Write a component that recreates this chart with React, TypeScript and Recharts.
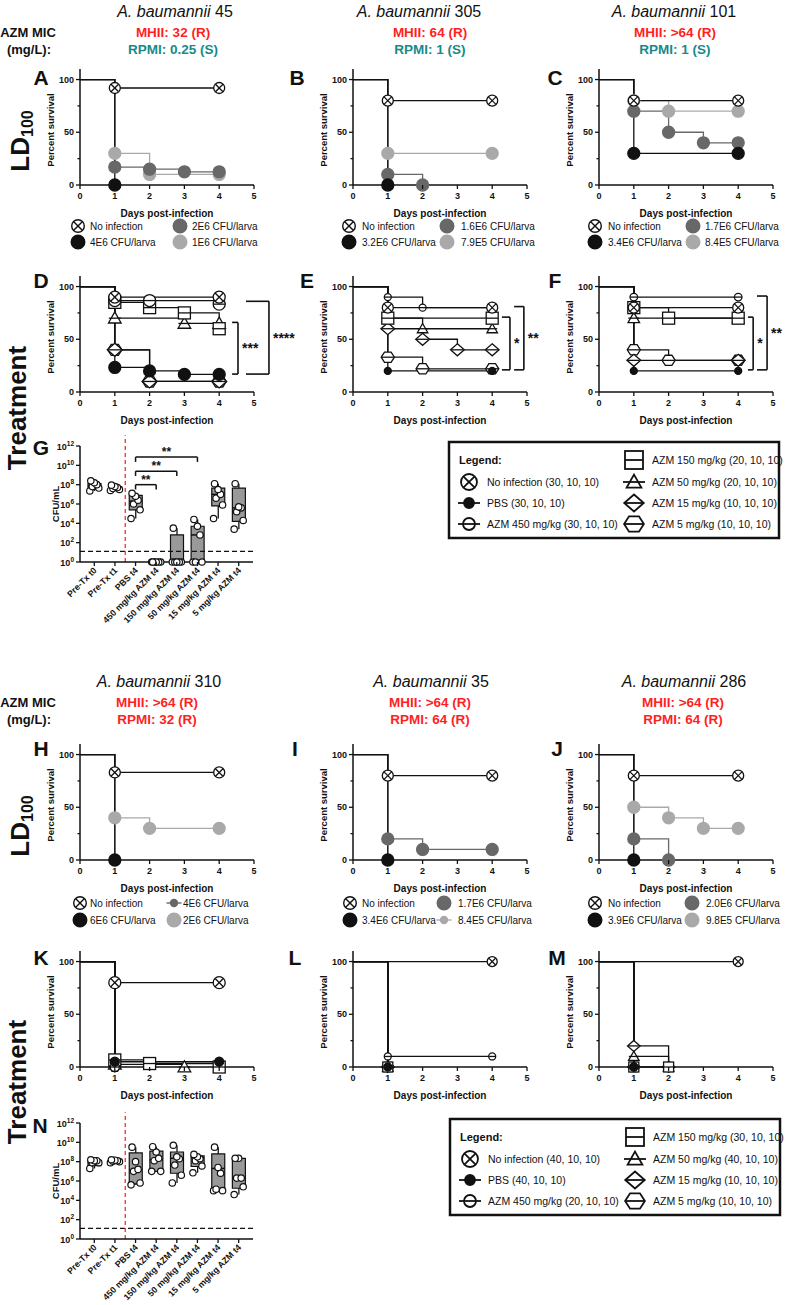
import React from 'react';
import { LineChart, Line, XAxis, YAxis, ReferenceLine, ComposedChart, Bar, Scatter } from 'recharts';

const FONT = "'Liberation Sans', Arial, Helvetica, sans-serif";
const NARROW = "'Liberation Sans Narrow', 'Arial Narrow', 'Liberation Sans', Arial, sans-serif";
const BLACK = '#111111';
const DARK = '#686868';
const LIGHT = '#a9a9a9';
const RED = '#ff1f1f';
const TEAL = '#178a8a';

// ---------- ticks ----------
const DAY_TICKS = [0, 1, 2, 3, 4, 5];
const PCT_TICKS = [0, 25, 50, 75, 100];
const LOG_TICKS = [0, 2, 4, 6, 8, 10, 12];

// ---------- LD100 survival: [day, % survival] ----------
const LD_A_LABELS = ['No infection', '4E6 CFU/larva', '2E6 CFU/larva', '1E6 CFU/larva'];
const LD_A_NOINF = [[0, 100], [1, 92], [4, 92]];
const LD_A_HIGH = [[0, 100], [1, 0]];
const LD_A_MID = [[0, 100], [1, 17], [2, 15], [3, 12.5], [4, 12.5]];
const LD_A_LOW = [[0, 100], [1, 30], [2, 10], [4, 10]];

const LD_B_LABELS = ['No infection', '3.2E6 CFU/larva', '1.6E6 CFU/larva', '7.9E5 CFU/larva'];
const LD_B_NOINF = [[0, 100], [1, 80], [4, 80]];
const LD_B_HIGH = [[0, 100], [1, 0]];
const LD_B_MID = [[0, 100], [1, 10], [2, 0]];
const LD_B_LOW = [[0, 100], [1, 30], [4, 30]];

const LD_C_LABELS = ['No infection', '3.4E6 CFU/larva', '1.7E6 CFU/larva', '8.4E5 CFU/larva'];
const LD_C_NOINF = [[0, 100], [1, 80], [4, 80]];
const LD_C_HIGH = [[0, 100], [1, 30], [4, 30]];
const LD_C_MID = [[0, 100], [1, 70], [2, 50], [3, 40], [4, 40]];
const LD_C_LOW = [[0, 100], [1, 80], [2, 70], [4, 70]];

const LD_H_LABELS = ['No infection', '6E6 CFU/larva', '4E6 CFU/larva', '2E6 CFU/larva'];
const LD_H_NOINF = [[0, 100], [1, 83], [4, 83]];
const LD_H_HIGH = [[0, 100], [1, 0]];
const LD_H_MID = [[0, 100], [1, 0]];
const LD_H_LOW = [[0, 100], [1, 40], [2, 30], [4, 30]];

const LD_I_LABELS = ['No infection', '3.4E6 CFU/larva', '1.7E6 CFU/larva', '8.4E5 CFU/larva'];
const LD_I_NOINF = [[0, 100], [1, 80], [4, 80]];
const LD_I_HIGH = [[0, 100], [1, 0]];
const LD_I_MID = [[0, 100], [1, 20], [2, 10], [4, 10]];
const LD_I_LOW = [[0, 100], [1, 0]];

const LD_J_LABELS = ['No infection', '3.9E6 CFU/larva', '2.0E6 CFU/larva', '9.8E5 CFU/larva'];
const LD_J_NOINF = [[0, 100], [1, 80], [4, 80]];
const LD_J_HIGH = [[0, 100], [1, 0]];
const LD_J_MID = [[0, 100], [1, 20], [2, 0]];
const LD_J_LOW = [[0, 100], [1, 50], [2, 40], [3, 30], [4, 30]];

// ---------- Treatment survival: order = No infection, PBS, AZM 450, 150, 50, 15, 5 ----------
const TX_D = [
  [[0, 100], [1, 90], [4, 90]],
  [[0, 100], [1, 23.3], [2, 20], [3, 16.7], [4, 16.7]],
  [[0, 100], [1, 86.7], [2, 86.7], [4, 83.3]],
  [[0, 100], [1, 85], [2, 80], [3, 75], [4, 60]],
  [[0, 100], [1, 70], [3, 65], [4, 65]],
  [[0, 100], [1, 40], [2, 10], [4, 10]],
  [[0, 100], [1, 40], [2, 10], [4, 10]],
];
const TX_E = [
  [[0, 100], [1, 80], [4, 80]],
  [[0, 100], [1, 20], [4, 20]],
  [[0, 100], [1, 90], [2, 80], [4, 80]],
  [[0, 100], [1, 70], [4, 70]],
  [[0, 100], [1, 70], [2, 60], [4, 60]],
  [[0, 100], [1, 60], [2, 50], [3, 40], [4, 40]],
  [[0, 100], [1, 33], [2, 22], [4, 22]],
];
const TX_F = [
  [[0, 100], [1, 80], [4, 80]],
  [[0, 100], [1, 20], [4, 20]],
  [[0, 100], [1, 90], [4, 90]],
  [[0, 100], [1, 80], [2, 70], [4, 70]],
  [[0, 100], [1, 70], [4, 70]],
  [[0, 100], [1, 30], [4, 30]],
  [[0, 100], [1, 40], [2, 30], [4, 30]],
];
const TX_K = [
  [[0, 100], [1, 80], [4, 80]],
  [[0, 100], [1, 5], [4, 5]],
  [[0, 100], [1, 0]],
  [[0, 100], [1, 6.7], [2, 3.3], [4, 0]],
  [[0, 100], [1, 2.5], [3, 0]],
  [[0, 100], [1, 0]],
  [[0, 100], [1, 0]],
];
const TX_L = [
  [[0, 100], [4, 100]],
  [[0, 100], [1, 0]],
  [[0, 100], [1, 10], [4, 10]],
  [[0, 100], [1, 0]],
  [[0, 100], [1, 0]],
  [[0, 100], [1, 0]],
  [[0, 100], [1, 0]],
];
const TX_M = [
  [[0, 100], [4, 100]],
  [[0, 100], [1, 0]],
  [[0, 100], [1, 0]],
  [[0, 100], [1, 0], [2, 0]],
  [[0, 100], [1, 10], [2, 0]],
  [[0, 100], [1, 20], [2, 0]],
  [[0, 100], [1, 0]],
];

// significance brackets (data coordinates: tick start x, vertical x, top %, bottom %)
const SIG_D = [
  { label: '***', xt: 4.37, xv: 4.54, top: 66, bot: 17 },
  { label: '****', xt: 4.77, xv: 5.43, top: 86, bot: 17 },
];
const SIG_E = [
  { label: '*', xt: 4.28, xv: 4.51, top: 71, bot: 21 },
  { label: '**', xt: 4.63, xv: 4.91, top: 81, bot: 21 },
];
const SIG_F = [
  { label: '*', xt: 4.28, xv: 4.43, top: 71, bot: 21 },
  { label: '**', xt: 4.54, xv: 4.83, top: 91, bot: 21 },
];

// ---------- CFU box plots (log10 CFU/mL) ----------
const CFU_CATEGORIES = ['Pre-Tx t0', 'Pre-Tx t1', 'PBS t4', '450 mg/kg AZM t4', '150 mg/kg AZM t4', '50 mg/kg AZM t4', '15 mg/kg AZM t4', '5 mg/kg AZM t4'];
const LOD = 1.1;
const G_POINTS = [
  [7.35, 7.65, 7.8, 8.0, 8.2, 8.4],
  [7.4, 7.5, 7.6, 7.7, 7.8, 7.95],
  [4.5, 5.4, 6.0, 6.4, 6.8, 7.1],
  [0, 0, 0, 0, 0, 0],
  [0, 0, 0, 0, 0, 3.5],
  [0, 0, 0, 2.8, 3.7, 4.4],
  [4.5, 5.9, 6.6, 7.0, 7.5, 8.1],
  [3.4, 4.3, 5.2, 5.6, 5.7, 8.1],
];
// [min, q1, median, q3, max]
const G_BOX = [
  [7.35, 7.5, 7.85, 8.1, 8.4],
  [7.4, 7.5, 7.65, 7.8, 7.95],
  [4.5, 5.4, 6.3, 6.9, 7.1],
  [0, 0, 0, 0, 0],
  [0, 0, 0, 2.8, 3.5],
  [0, 0, 2.8, 3.7, 4.4],
  [4.5, 5.8, 7.0, 7.65, 8.1],
  [3.4, 4.2, 5.6, 7.65, 8.1],
];
const SIG_G = [
  { label: '**', from: 'PBS t4', to: '450 mg/kg AZM t4', y: 8.0 },
  { label: '**', from: 'PBS t4', to: '150 mg/kg AZM t4', y: 9.4 },
  { label: '**', from: 'PBS t4', to: '50 mg/kg AZM t4', y: 10.85 },
];
const N_POINTS = [
  [7.3, 7.9, 7.9, 8.1, 8.1, 8.2],
  [7.9, 8.0, 8.05, 8.1, 8.15, 8.2],
  [5.6, 5.8, 7.0, 7.2, 8.0, 9.5],
  [7.0, 7.0, 8.1, 8.35, 9.0, 9.55],
  [5.8, 6.6, 7.65, 8.3, 8.5, 9.7],
  [6.85, 7.55, 8.1, 8.3, 8.5, 8.75],
  [5.0, 5.0, 5.15, 6.8, 7.4, 9.5],
  [4.6, 5.4, 6.3, 6.3, 8.35, 8.35],
];
const N_BOX = [
  [7.3, 7.6, 7.9, 8.1, 8.2],
  [7.9, 7.95, 8.05, 8.15, 8.2],
  [5.6, 5.7, 7.1, 8.9, 9.5],
  [7.0, 7.0, 8.2, 9.1, 9.55],
  [5.8, 6.8, 8.35, 9.0, 9.7],
  [6.85, 7.5, 8.4, 8.6, 8.75],
  [5.0, 5.1, 7.3, 8.8, 9.5],
  [4.6, 5.25, 6.3, 8.35, 8.35],
];

// ---------- legends ----------
const TX_LEGEND_1 = ['No infection (30, 10, 10)', 'PBS (30, 10, 10)', 'AZM 450 mg/kg (30, 10, 10)', 'AZM 150 mg/kg (20, 10, 10)', 'AZM 50 mg/kg (20, 10, 10)', 'AZM 15 mg/kg (10, 10, 10)', 'AZM 5 mg/kg (10, 10, 10)'];
const TX_LEGEND_2 = ['No infection (40, 10, 10)', 'PBS (40, 10, 10)', 'AZM 450 mg/kg (20, 10, 10)', 'AZM 150 mg/kg (30, 10, 10)', 'AZM 50 mg/kg (40, 10, 10)', 'AZM 15 mg/kg (10, 10, 10)', 'AZM 5 mg/kg (10, 10, 10)'];

// =====================================================================
type Sty = { shape: string; r: number; line: string; fill: string; stroke: string };

function Sym({ shape, cx, cy, r, fill, stroke, sw = 1.3, bar = 0 }: any) {
  const hl = <line x1={cx - r - bar} x2={cx + r + bar} y1={cy} y2={cy} stroke={stroke} strokeWidth={sw} />;
  if (shape === 'xcircle') {
    const d = r * 0.68;
    return (
      <g>
        <circle cx={cx} cy={cy} r={r} fill="#fff" stroke={stroke} strokeWidth={sw} />
        <line x1={cx - d} y1={cy - d} x2={cx + d} y2={cy + d} stroke={stroke} strokeWidth={sw} />
        <line x1={cx - d} y1={cy + d} x2={cx + d} y2={cy - d} stroke={stroke} strokeWidth={sw} />
      </g>
    );
  }
  if (shape === 'filled') {
    return (
      <g>
        {bar > 0 && hl}
        <circle cx={cx} cy={cy} r={r} fill={fill} stroke={stroke} strokeWidth={sw} />
      </g>
    );
  }
  let body: any = null;
  if (shape === 'circle') body = <circle cx={cx} cy={cy} r={r} fill="#fff" stroke={stroke} strokeWidth={sw} />;
  if (shape === 'square') body = <rect x={cx - r} y={cy - r} width={2 * r} height={2 * r} fill="#fff" stroke={stroke} strokeWidth={sw} />;
  if (shape === 'triangle')
    body = <polygon points={`${cx},${cy - r * 1.05} ${cx + r * 1.05},${cy + r * 0.8} ${cx - r * 1.05},${cy + r * 0.8}`} fill="#fff" stroke={stroke} strokeWidth={sw} />;
  if (shape === 'diamond')
    body = <polygon points={`${cx},${cy - r} ${cx + r * 1.15},${cy} ${cx},${cy + r} ${cx - r * 1.15},${cy}`} fill="#fff" stroke={stroke} strokeWidth={sw} />;
  if (shape === 'hexagon')
    body = (
      <polygon
        points={`${cx - r * 1.1},${cy} ${cx - r * 0.55},${cy - r * 0.85} ${cx + r * 0.55},${cy - r * 0.85} ${cx + r * 1.1},${cy} ${cx + r * 0.55},${cy + r * 0.85} ${cx - r * 0.55},${cy + r * 0.85}`}
        fill="#fff"
        stroke={stroke}
        strokeWidth={sw}
      />
    );
  return (
    <g>
      {body}
      {hl}
    </g>
  );
}

const ldStyles = (small?: number): Sty[] =>
  [
    { shape: 'xcircle', r: 5.5, line: BLACK, fill: '#fff', stroke: BLACK },
    { shape: 'filled', r: 6, line: BLACK, fill: BLACK, stroke: BLACK },
    { shape: 'filled', r: 6, line: DARK, fill: DARK, stroke: DARK },
    { shape: 'filled', r: 6, line: LIGHT, fill: LIGHT, stroke: LIGHT },
  ].map((s, i) => (i === small ? { ...s, r: 3.5 } : s));

const TX_SHAPES = ['xcircle', 'filled', 'circle', 'square', 'triangle', 'diamond', 'hexagon'];
const txStyles = (sizes: number[]): Sty[] =>
  TX_SHAPES.map((shape, i) => ({ shape, r: sizes[i], line: BLACK, fill: BLACK, stroke: BLACK }));

const PLOT_W = 174;
const PLOT_H = 116;
const Y_W = 50;
const M_TOP = 6;
const X_H = 20;
const M_RIGHT = 64;

const DayTick = (p: any) => (
  <g>
    <line x1={p.x} x2={p.x} y1={p.y} y2={p.y + 4} stroke={BLACK} strokeWidth={1.3} />
    <text x={p.x} y={p.y + 14} textAnchor="middle" fontFamily={FONT} fontWeight="bold" fontSize={9} fill={BLACK}>
      {p.payload.value}
    </text>
  </g>
);

const PctTick = (p: any) => {
  const v = p.payload.value;
  const major = v % 50 === 0;
  return (
    <g>
      <line x1={p.x} x2={p.x - (major ? 4 : 2.5)} y1={p.y} y2={p.y} stroke={BLACK} strokeWidth={1.3} />
      {major && (
        <text x={p.x - 6} y={p.y + 3.2} textAnchor="end" fontFamily={FONT} fontWeight="bold" fontSize={9} fill={BLACK}>
          {v}
        </text>
      )}
    </g>
  );
};

function SurvivalPanel({ plotLeft, plotBottom, series, styles, order, brackets = [] }: any) {
  const width = Y_W + PLOT_W + M_RIGHT;
  const height = M_TOP + PLOT_H + X_H;
  return (
    <div style={{ position: 'absolute', left: plotLeft - Y_W, top: plotBottom - PLOT_H - M_TOP }}>
      <LineChart width={width} height={height} margin={{ top: M_TOP, right: M_RIGHT, bottom: 0, left: 0 }}>
        <XAxis
          type="number"
          dataKey="x"
          domain={[0, 5]}
          ticks={DAY_TICKS}
          interval={0}
          height={X_H}
          tickSize={0}
          tickMargin={0}
          tick={<DayTick />}
          axisLine={{ stroke: BLACK, strokeWidth: 1.5 }}
        />
        <YAxis
          type="number"
          domain={[0, 110]}
          ticks={PCT_TICKS}
          interval={0}
          width={Y_W}
          tickSize={0}
          tickMargin={0}
          tick={<PctTick />}
          axisLine={{ stroke: BLACK, strokeWidth: 1.5 }}
        />
        {order.map((i: number) => {
          const st: Sty = styles[i];
          const data = series[i].map(([x, y]: number[]) => ({ x, y }));
          return (
            <Line
              key={`s${i}`}
              data={data}
              dataKey="y"
              type="stepAfter"
              stroke={st.line}
              strokeWidth={1.3}
              activeDot={false}
              isAnimationActive={false}
              dot={(p: any) =>
                p.payload.x === 0 ? (
                  <g key={`d${i}-${p.index}`} />
                ) : (
                  <Sym key={`d${i}-${p.index}`} shape={st.shape} cx={p.cx} cy={p.cy} r={st.r} fill={st.fill} stroke={st.stroke} />
                )
              }
            />
          );
        })}
        {brackets.map((b: any, k: number) => [
          <ReferenceLine key={`bt${k}`} segment={[{ x: b.xt, y: b.top }, { x: b.xv, y: b.top }]} stroke={BLACK} strokeWidth={1.6} ifOverflow="visible" />,
          <ReferenceLine key={`bb${k}`} segment={[{ x: b.xt, y: b.bot }, { x: b.xv, y: b.bot }]} stroke={BLACK} strokeWidth={1.6} ifOverflow="visible" />,
          <ReferenceLine
            key={`bv${k}`}
            segment={[{ x: b.xv, y: b.top }, { x: b.xv, y: b.bot }]}
            stroke={BLACK}
            strokeWidth={1.6}
            ifOverflow="visible"
            label={{ value: b.label, position: 'right', offset: 4, fill: BLACK, fontSize: 14, fontWeight: 'bold', fontFamily: FONT }}
          />,
        ])}
      </LineChart>
    </div>
  );
}

const PowTick = (p: any) => (
  <g>
    <line x1={p.x} x2={p.x - 4} y1={p.y} y2={p.y} stroke={BLACK} strokeWidth={1.3} />
    <text x={p.x - 6} y={p.y + 3.5} textAnchor="end" fontFamily={FONT} fontWeight="bold" fontSize={9} fill={BLACK}>
      10
      <tspan dy={-4} fontSize={6.5}>
        {p.payload.value}
      </tspan>
    </text>
  </g>
);

const CatTick = (p: any) => (
  <g>
    <line x1={p.x} x2={p.x} y1={p.y} y2={p.y + 4} stroke={BLACK} strokeWidth={1.3} />
    <text
      x={p.x + 3}
      y={p.y + 9}
      textAnchor="end"
      transform={`rotate(-45 ${p.x + 3} ${p.y + 9})`}
      fontFamily={FONT}
      fontWeight="bold"
      fontSize={8.8}
      fill={BLACK}
    >
      {p.payload.value}
    </text>
  </g>
);

const JIT = [-4.5, 4.5, -2, 2.5, 0, -3.5];

function CfuPanel({ plotLeft, plotTop, points, box, brackets = [] }: any) {
  const YW = 45;
  const MT = 14;
  const PH = 116;
  const PW = 173;
  const XH = 70;
  const MR = 12;
  const rows = CFU_CATEGORIES.map((cat, i) => {
    const r: any = { cat, whisker: [box[i][0], box[i][4]], iqr: [box[i][1], box[i][3]], med: box[i][2] };
    points[i].forEach((v: number, k: number) => (r[`p${k}`] = v));
    return r;
  });
  return (
    <div style={{ position: 'absolute', left: plotLeft - YW, top: plotTop - MT }}>
      <ComposedChart width={YW + PW + MR} height={MT + PH + XH} data={rows} margin={{ top: MT, right: MR, bottom: 0, left: 0 }}>
        <XAxis
          xAxisId="m"
          dataKey="cat"
          type="category"
          allowDuplicatedCategory={false}
          interval={0}
          padding={{ left: 4, right: 4 }}
          height={XH}
          tickSize={0}
          tickMargin={0}
          tick={<CatTick />}
          axisLine={{ stroke: BLACK, strokeWidth: 1.5 }}
        />
        <XAxis xAxisId="w" dataKey="cat" type="category" hide padding={{ left: 4, right: 4 }} />
        <YAxis
          domain={[0, 12]}
          ticks={LOG_TICKS}
          interval={0}
          width={YW}
          tickSize={0}
          tickMargin={0}
          tick={<PowTick />}
          axisLine={{ stroke: BLACK, strokeWidth: 1.5 }}
        />
        <Bar
          xAxisId="w"
          dataKey="whisker"
          barSize={13}
          isAnimationActive={false}
          shape={(p: any) => (
            <line x1={p.x + p.width / 2} x2={p.x + p.width / 2} y1={p.y} y2={p.y + p.height} stroke={BLACK} strokeWidth={1.3} />
          )}
        />
        <Bar xAxisId="m" dataKey="iqr" barSize={13} fill="#999999" stroke={BLACK} strokeWidth={1.2} isAnimationActive={false} />
        <ReferenceLine xAxisId="m" y={LOD} stroke={BLACK} strokeWidth={1.3} strokeDasharray="5 3" ifOverflow="visible" />
        <ReferenceLine
          xAxisId="m"
          position="start"
          segment={[{ x: 'PBS t4', y: 0 }, { x: 'PBS t4', y: 13.1 }]}
          stroke="#ff2a2a"
          strokeWidth={1.3}
          strokeDasharray="4 3"
          ifOverflow="visible"
        />
        <Scatter
          xAxisId="m"
          dataKey="med"
          isAnimationActive={false}
          shape={(p: any) => <line x1={p.cx - 6.5} x2={p.cx + 6.5} y1={p.cy} y2={p.cy} stroke={BLACK} strokeWidth={1.5} />}
        />
        {JIT.map((j, k) => (
          <Scatter
            key={`p${k}`}
            xAxisId="m"
            dataKey={`p${k}`}
            isAnimationActive={false}
            shape={(p: any) => <circle cx={p.cx + j} cy={p.cy} r={3.2} fill="#fff" stroke={BLACK} strokeWidth={1.2} />}
          />
        ))}
        {brackets.map((b: any, k: number) => [
          <ReferenceLine
            key={`gh${k}`}
            xAxisId="m"
            segment={[{ x: b.from, y: b.y }, { x: b.to, y: b.y }]}
            stroke={BLACK}
            strokeWidth={1.5}
            ifOverflow="visible"
            label={{ value: b.label, position: 'top', offset: 1, fill: BLACK, fontSize: 12, fontWeight: 'bold', fontFamily: FONT }}
          />,
          <ReferenceLine key={`gl${k}`} xAxisId="m" segment={[{ x: b.from, y: b.y }, { x: b.from, y: b.y - 0.5 }]} stroke={BLACK} strokeWidth={1.5} ifOverflow="visible" />,
          <ReferenceLine key={`gr${k}`} xAxisId="m" segment={[{ x: b.to, y: b.y }, { x: b.to, y: b.y - 0.5 }]} stroke={BLACK} strokeWidth={1.5} ifOverflow="visible" />,
        ])}
      </ComposedChart>
    </div>
  );
}

// ---------------- overlay text ----------------
function T({ x, y, size = 10, bold = false, italic = false, anchor = 'middle', color = BLACK, family = FONT, rotate = 0, children }: any) {
  return (
    <text
      x={x}
      y={y}
      fontSize={size}
      fontWeight={bold ? 'bold' : 'normal'}
      fontStyle={italic ? 'italic' : 'normal'}
      textAnchor={anchor}
      dominantBaseline="central"
      fill={color}
      fontFamily={family}
      transform={rotate ? `rotate(${rotate} ${x} ${y})` : undefined}
    >
      {children}
    </text>
  );
}

function Header({ y, titles, mic }: any) {
  return (
    <g>
      {titles.map((t: any, i: number) => (
        <text key={`t${i}`} x={t.x} y={y} fontSize={16} textAnchor="middle" dominantBaseline="central" fontFamily={NARROW} fill={BLACK}>
          <tspan fontStyle="italic">A. baumannii</tspan>
          <tspan> {t.n}</tspan>
        </text>
      ))}
      <T x={28} y={y + 21} size={13} bold family={NARROW}>AZM MIC</T>
      <T x={29} y={y + 38} size={13} bold family={NARROW}>(mg/L):</T>
      {mic.map((m: any, i: number) => (
        <g key={`m${i}`}>
          <T x={m.x} y={y + 21} size={13.5} bold family={NARROW} color={RED}>{m.a}</T>
          <T x={m.x} y={y + 38} size={13.5} bold family={NARROW} color={m.s ? TEAL : RED}>{m.b}</T>
        </g>
      ))}
    </g>
  );
}

function LdLegend({ labels, styles, cols, rows }: any) {
  const slots = [
    [0, 0],
    [0, 1],
    [1, 0],
    [1, 1],
  ];
  return (
    <g>
      {labels.map((lab: string, i: number) => {
        const [c, r] = slots[i];
        const st: Sty = styles[i];
        const y = rows[r];
        return (
          <g key={lab + i}>
            <Sym shape={st.shape} cx={cols[c][0]} cy={y} r={st.r + (st.r < 4 ? 0 : 0.8)} fill={st.fill} stroke={st.stroke} sw={1.4} bar={st.r < 4 ? 4 : 0} />
            <T x={cols[c][1]} y={y} size={10} anchor="start">{lab}</T>
          </g>
        );
      })}
    </g>
  );
}

function TxLegend({ left, top, labels }: any) {
  const rows = [top + 18, top + 40, top + 61, top + 82];
  const lx = left + 20;
  const rx = left + 185;
  const items = [
    { shape: 'xcircle', r: 8, bar: 0, x: lx, y: rows[1] },
    { shape: 'filled', r: 5, bar: 6, x: lx, y: rows[2] },
    { shape: 'circle', r: 6, bar: 5, x: lx, y: rows[3] },
    { shape: 'square', r: 9, bar: 0, x: rx, y: rows[0] },
    { shape: 'triangle', r: 7, bar: 4, x: rx, y: rows[1] },
    { shape: 'diamond', r: 8.5, bar: 1, x: rx, y: rows[2] },
    { shape: 'hexagon', r: 9, bar: 0, x: rx, y: rows[3] },
  ];
  return (
    <g>
      <rect x={left} y={top} width={330} height={96} fill="#fff" stroke={BLACK} strokeWidth={2.5} />
      <T x={lx - 10} y={rows[0]} size={11} bold anchor="start">Legend:</T>
      {items.map((it, i) => (
        <g key={`li${i}`}>
          <Sym shape={it.shape} cx={it.x} cy={it.y} r={it.r} fill={BLACK} stroke={BLACK} sw={1.8} bar={it.bar} />
          <T x={it.x + 18} y={it.y} size={10.5} anchor="start">{labels[i]}</T>
        </g>
      ))}
    </g>
  );
}

function Overlay() {
  const lettersRow = (y: number, xs: number[], ls: string[]) =>
    ls.map((l, i) => (
      <T key={l} x={xs[i]} y={y} size={21} bold>
        {l}
      </T>
    ));
  const axisTitles = (lefts: number[], bottom: number) =>
    lefts.map((l, i) => (
      <g key={`ax${bottom}${i}`}>
        <T x={l - 30} y={bottom - 55} size={9.5} bold rotate={-90}>Percent survival</T>
        <T x={l + 87} y={bottom + 28} size={10} bold>Days post-infection</T>
      </g>
    ));
  return (
    <svg width={785} height={1305} style={{ position: 'absolute', left: 0, top: 0, pointerEvents: 'none' }}>
      <Header
        y={11}
        titles={[{ x: 175, n: '45' }, { x: 419, n: '305' }, { x: 674, n: '101' }]}
        mic={[
          { x: 173, a: 'MHII: 32 (R)', b: 'RPMI: 0.25 (S)', s: true },
          { x: 430, a: 'MHII: 64 (R)', b: 'RPMI: 1 (S)', s: true },
          { x: 675, a: 'MHII: >64 (R)', b: 'RPMI: 1 (S)', s: true },
        ]}
      />
      <Header
        y={681}
        titles={[{ x: 159, n: '310' }, { x: 431, n: '35' }, { x: 684, n: '286' }]}
        mic={[
          { x: 157, a: 'MHII: >64 (R)', b: 'RPMI: 32 (R)', s: false },
          { x: 430, a: 'MHII: >64 (R)', b: 'RPMI: 64 (R)', s: false },
          { x: 683, a: 'MHII: >64 (R)', b: 'RPMI: 64 (R)', s: false },
        ]}
      />
      {/* row labels */}
      <text x={20} y={141} fontSize={26} fontWeight="bold" fontFamily={FONT} textAnchor="middle" dominantBaseline="central" transform="rotate(-90 20 141)" fill={BLACK}>
        LD<tspan fontSize={16} dy={7}>100</tspan>
      </text>
      <T x={17} y={408} size={26} bold rotate={-90}>Treatment</T>
      <text x={20} y={826} fontSize={26} fontWeight="bold" fontFamily={FONT} textAnchor="middle" dominantBaseline="central" transform="rotate(-90 20 826)" fill={BLACK}>
        LD<tspan fontSize={16} dy={7}>100</tspan>
      </text>
      <T x={17} y={1082} size={26} bold rotate={-90}>Treatment</T>

      {lettersRow(77, [41, 297, 555], ['A', 'B', 'C'])}
      {lettersRow(280, [41, 307, 555], ['D', 'E', 'F'])}
      {lettersRow(447, [41], ['G'])}
      {lettersRow(748, [41, 295, 557], ['H', 'I', 'J'])}
      {lettersRow(957, [41, 295, 557], ['K', 'L', 'M'])}
      {lettersRow(1125, [40], ['N'])}

      {axisTitles([80, 353, 599], 185)}
      {axisTitles([80, 353, 599], 392)}
      {axisTitles([80, 353, 599], 860)}
      {axisTitles([80, 353, 599], 1067)}
      <T x={55} y={504} size={9.5} bold rotate={-90}>CFU/mL</T>
      <T x={55} y={1181} size={9.5} bold rotate={-90}>CFU/mL</T>

      <LdLegend labels={LD_A_LABELS} styles={ldStyles()} cols={[[78, 90], [180, 192]]} rows={[226, 242]} />
      <LdLegend labels={LD_B_LABELS} styles={ldStyles()} cols={[[349, 362], [447, 461]]} rows={[226, 242]} />
      <LdLegend labels={LD_C_LABELS} styles={ldStyles()} cols={[[595, 608], [693, 705]]} rows={[226, 242]} />
      <LdLegend labels={LD_H_LABELS} styles={ldStyles(2)} cols={[[80, 90], [174, 183]]} rows={[903, 920]} />
      <LdLegend labels={LD_I_LABELS} styles={ldStyles(3)} cols={[[350, 362], [444, 458]]} rows={[903, 920]} />
      <LdLegend labels={LD_J_LABELS} styles={ldStyles()} cols={[[595, 608], [692, 706]]} rows={[903, 920]} />

      <TxLegend left={449} top={442} labels={TX_LEGEND_1} />
      <TxLegend left={450} top={1119} labels={TX_LEGEND_2} />
    </svg>
  );
}

const LD_ORDER = [3, 2, 1, 0];
const TX_ORDER = [6, 5, 4, 3, 2, 1, 0];

export default function App() {
  return (
    <div style={{ position: 'relative', width: 785, height: 1305, overflow: 'hidden', background: '#fff', fontFamily: FONT }}>
      <style>{'body{margin:0;background:#fff;}'}</style>
      <SurvivalPanel plotLeft={80} plotBottom={185} series={[LD_A_NOINF, LD_A_HIGH, LD_A_MID, LD_A_LOW]} styles={ldStyles()} order={LD_ORDER} />
      <SurvivalPanel plotLeft={353} plotBottom={185} series={[LD_B_NOINF, LD_B_HIGH, LD_B_MID, LD_B_LOW]} styles={ldStyles()} order={LD_ORDER} />
      <SurvivalPanel plotLeft={599} plotBottom={185} series={[LD_C_NOINF, LD_C_HIGH, LD_C_MID, LD_C_LOW]} styles={ldStyles()} order={LD_ORDER} />

      <SurvivalPanel plotLeft={80} plotBottom={392} series={TX_D} styles={txStyles([6, 6, 6, 6, 6, 6.5, 6.5])} order={TX_ORDER} brackets={SIG_D} />
      <SurvivalPanel plotLeft={353} plotBottom={392} series={TX_E} styles={txStyles([5.5, 3.5, 3.5, 6, 5, 6, 6])} order={TX_ORDER} brackets={SIG_E} />
      <SurvivalPanel plotLeft={599} plotBottom={392} series={TX_F} styles={txStyles([5.5, 3.5, 3.8, 6, 5.5, 6, 6])} order={TX_ORDER} brackets={SIG_F} />

      <CfuPanel plotLeft={80} plotTop={446} points={G_POINTS} box={G_BOX} brackets={SIG_G} />

      <SurvivalPanel plotLeft={80} plotBottom={860} series={[LD_H_NOINF, LD_H_HIGH, LD_H_MID, LD_H_LOW]} styles={ldStyles(2)} order={LD_ORDER} />
      <SurvivalPanel plotLeft={353} plotBottom={860} series={[LD_I_NOINF, LD_I_HIGH, LD_I_MID, LD_I_LOW]} styles={ldStyles(3)} order={LD_ORDER} />
      <SurvivalPanel plotLeft={599} plotBottom={860} series={[LD_J_NOINF, LD_J_HIGH, LD_J_MID, LD_J_LOW]} styles={ldStyles()} order={LD_ORDER} />

      <SurvivalPanel plotLeft={80} plotBottom={1067} series={TX_K} styles={txStyles([6, 4.5, 4.5, 6, 6, 5, 5])} order={TX_ORDER} />
      <SurvivalPanel plotLeft={353} plotBottom={1067} series={TX_L} styles={txStyles([5, 4, 3.5, 5, 5, 5.5, 5.5])} order={TX_ORDER} />
      <SurvivalPanel plotLeft={599} plotBottom={1067} series={TX_M} styles={txStyles([5, 4, 4, 5, 5, 5.5, 5.5])} order={TX_ORDER} />

      <CfuPanel plotLeft={80} plotTop={1123} points={N_POINTS} box={N_BOX} />

      <Overlay />
    </div>
  );
}
